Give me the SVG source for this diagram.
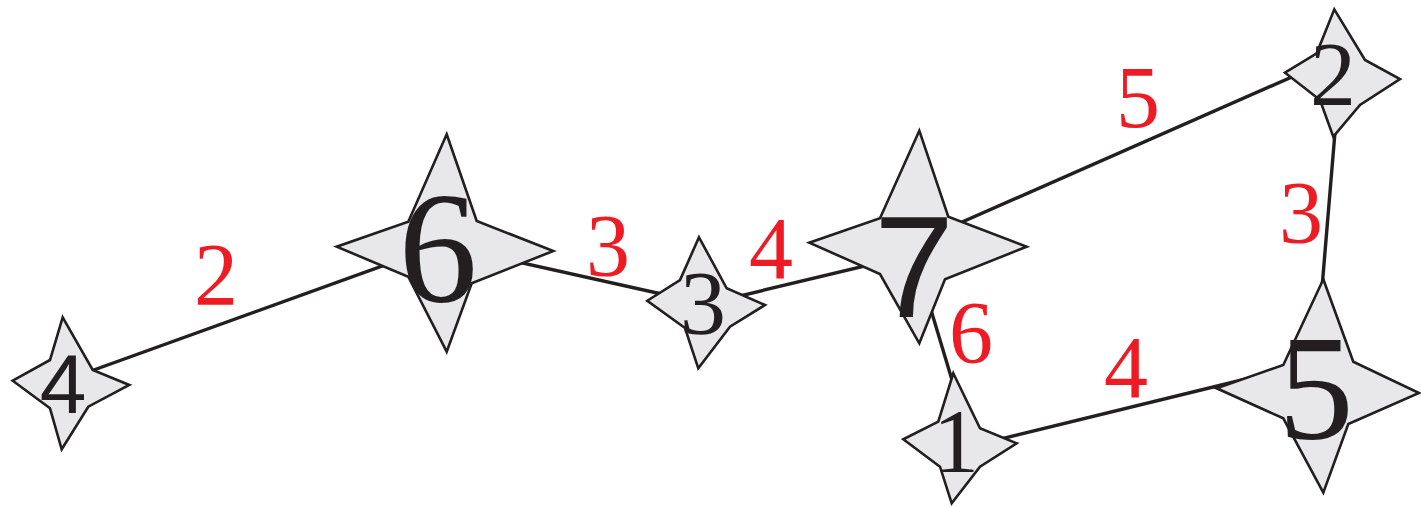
<svg xmlns="http://www.w3.org/2000/svg" width="1421" height="507" viewBox="0 0 1421 507">
<style>
.star{fill:#e8e8ea;stroke:#231f20;stroke-width:2.6;stroke-linejoin:miter}
.edge{stroke:#231f20;stroke-width:3.4;fill:none}
.n{fill:#231f20;font-family:"Liberation Serif","Times New Roman",serif;text-anchor:middle}
.ns{fill:#231f20;font-family:"Liberation Sans",Arial,sans-serif;text-anchor:middle}
.w{fill:#ed1c24;font-family:"Liberation Serif","Times New Roman",serif;font-size:88px;text-anchor:middle}
</style>
<rect width="1421" height="507" fill="#ffffff"/>
<g id="edges">
<line class="edge" x1="66" y1="380" x2="446" y2="243"/>
<line class="edge" x1="446" y1="246" x2="702" y2="303"/>
<line class="edge" x1="702" y1="305" x2="919" y2="253"/>
<line class="edge" x1="919" y1="241" x2="1310" y2="69"/>
<line class="edge" x1="1336" y1="120" x2="1321" y2="300"/>
<line class="edge" x1="925" y1="290" x2="955" y2="390"/>
<line class="edge" x1="960" y1="449" x2="1250" y2="378"/>
<text class="w" x="216" y="304">2</text>
<text class="w" x="608" y="275">3</text>
<text class="w" x="771" y="278">4</text>
<text class="w" x="1138" y="127">5</text>
<text class="w" x="1301" y="242">3</text>
<text class="w" x="971" y="362">6</text>
<text class="w" x="1126" y="397">4</text>
</g>
<g id="node4">
<polygon class="star" points="62.7,317.3 92.7,370 129.3,385 88.3,406.7 61.7,449.3 50,408.3 12.7,380.7 50,360"/>
<text class="ns" x="63" y="413" font-size="84">4</text>
</g>
<g id="node6">
<polygon class="star" points="446.7,134.3 476.7,221 553.3,251 471.7,283.3 446.7,351.7 408.3,276.7 336.7,246.7 408.3,221.7"/>
<text class="n" x="438" y="301" font-size="158">6</text>
</g>
<g id="node3">
<polygon class="star" points="699,237.3 726.7,288.3 765,305 730,326.7 698.3,368.3 685,328 647.3,300.7 680,280"/>
<text class="n" x="703" y="334" font-size="92">3</text>
</g>
<g id="node7">
<polygon class="star" points="919.3,130.7 948.3,216.7 1026.7,246.7 945,279.3 919.3,343.3 880,274 809.3,242.7 880,218.3"/>
<text class="ns" x="914" y="317" font-size="144">7</text>
</g>
<g id="node2">
<polygon class="star" points="1334.3,9.3 1365,60 1400,79 1360,105 1333.3,136.7 1320,100 1285,72.7 1316.7,53.3"/>
<text class="n" x="1333" y="105" font-size="92">2</text>
</g>
<g id="node1">
<polygon class="star" points="953.3,373.3 980,428.3 1016.7,443.3 980,466.7 951.7,503.3 940,466.7 903.3,439.3 938.3,421.7"/>
<text class="n" x="956" y="472" font-size="92">1</text>
</g>
<g id="node5">
<polygon class="star" points="1323.3,279.3 1353.3,361.7 1419,393 1348.3,424 1323.3,492.7 1283.3,418.3 1216.7,388.3 1283.3,365"/>
<text class="n" x="1316" y="439" font-size="151">5</text>
</g>
</svg>
